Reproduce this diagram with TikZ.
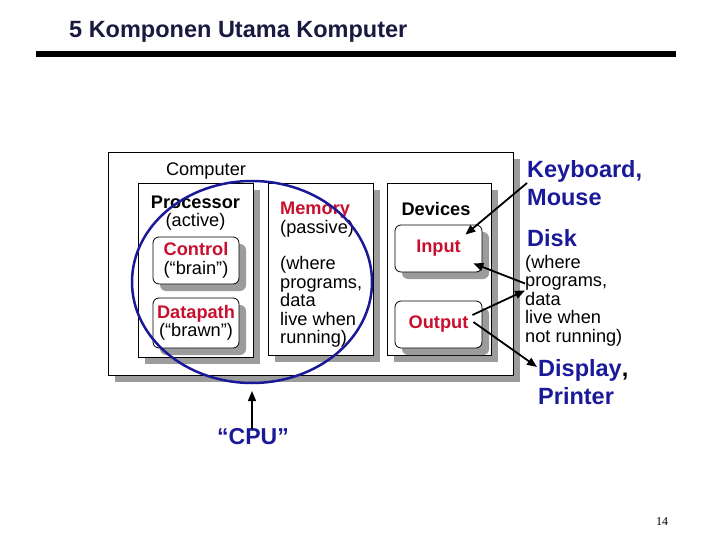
\documentclass[tikz,border=0pt]{standalone}
\usepackage{fontspec}
\setmainfont{Liberation Sans}
\newfontfamily\pagefont{Liberation Serif}
\usetikzlibrary{arrows.meta, shadows, calc}
\definecolor{kmred}{HTML}{C8102E}
\definecolor{kmblue}{HTML}{1A1A99}
\definecolor{kmnavy}{HTML}{1A1A40}
\definecolor{kmshadow}{HTML}{9C9C9C}

\begin{document}
\begin{tikzpicture}[x=1pt, y=-1pt,
  every node/.style={font=\fontsize{18.2}{18.5}\selectfont, inner sep=0pt},
  boxshadow/.style={drop shadow={shadow xshift=7pt, shadow yshift=-7pt, fill=kmshadow, opacity=1}},
  framebox/.style={rectangle, draw=black, line width=0.8pt, fill=white, boxshadow},
  partbox/.style={framebox, rounded corners=6pt, align=center},
  bluelabel/.style={font=\fontsize{23.5}{28}\selectfont\bfseries, text=kmblue, align=left, anchor=west},
  ptr/.style={-{Triangle[length=10pt,width=8pt]}, line width=1.8pt},
]
\useasboundingbox (0,0) rectangle (720,540);

% Title
\node[anchor=west, font=\fontsize{23.5}{26}\selectfont\bfseries, text=kmnavy] (title) at (69,32) {5 Komponen Utama Komputer};
\draw[line width=6pt] (36,54) -- (676,54);

% Computer
\node[framebox, minimum width=405pt, minimum height=223pt] (comp) at (310.5,263.5) {};
\node (complbl) at (206,171) {Computer};

% Processor
\node[framebox, minimum width=115pt, minimum height=174pt] (proc) at (195.5,270) {};
\node[align=center] (proclbl) at (195.5,213) {\bfseries Processor\\(active)};
\node[partbox, minimum width=86pt, minimum height=47pt] (ctrl) at (196,260.5) {\textcolor{kmred}{\bfseries Control}\\(“brain”)};
\node[partbox, minimum width=86pt, minimum height=50pt] (dpath) at (196,323) {\textcolor{kmred}{\bfseries Datapath}\\(“brawn”)};

% Memory
\node[framebox, minimum width=105pt, minimum height=172pt] (mem) at (320.5,269) {};
\node[anchor=north west, align=left] (memlbl) at (280,202) {\textcolor{kmred}{\bfseries Memory}\\(passive)\\[18pt](where\\programs,\\data\\live when\\running)};

% Devices
\node[framebox, minimum width=104pt, minimum height=172pt] (dev) at (439,269) {};
\node (devlbl) at (436,209) {\bfseries Devices};
\node[partbox, minimum width=87pt, minimum height=47pt, text=kmred, font=\fontsize{18.2}{18.5}\selectfont\bfseries] (inp) at (438.5,248.5) {Input};
\node[partbox, minimum width=87pt, minimum height=47pt, text=kmred, font=\fontsize{18.2}{18.5}\selectfont\bfseries] (outp) at (438.5,324.5) {Output};

% CPU circle
\draw[kmblue, line width=2.5pt] (252,282) ellipse [x radius=120, y radius=101];
\node[font=\fontsize{23}{26}\selectfont\bfseries, text=kmblue] (cpu) at (253,437) {“CPU”};
\coordinate (cputip) at (252,391);
\draw[ptr, line width=1.4pt] (cpu.north -| cputip) -- (cputip);

% Right side
\node[bluelabel] (kbd) at (527,183) {Keyboard,\\Mouse};
\node[bluelabel] (disk) at (527,238) {Disk};
\node[anchor=west, align=left] (diskinfo) at (525,300.5) {(where\\programs,\\data\\live when\\not running)};
\node[bluelabel] (disp) at (538,382) {Display\textcolor{black}{,}\\Printer};

\draw[ptr] (kbd.west) -- ($(inp.north east)+(-17,10)$);
\draw[ptr] ($(diskinfo.west)+(0,-17)$) -- ($(inp.south east)+(-9,-9)$);
\draw[ptr] ($(outp.east)+(-10,-9.5)$) -- ($(diskinfo.west)+(0,-10)$);
\draw[ptr] ($(outp.east)+(-9,-2.5)$) -- ($(disp.west)+(-1,-15)$);

\node[font=\pagefont\fontsize{12}{14}\selectfont] (pgno) at (662,522) {14};
\end{tikzpicture}
\end{document}
